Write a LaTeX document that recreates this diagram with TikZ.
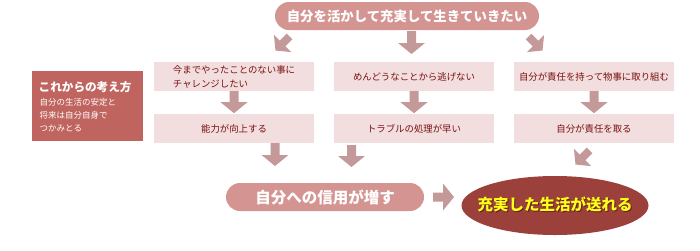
\documentclass[tikz,border=0pt]{standalone}
\usepackage{fontspec}
\setmainfont{Noto Sans CJK JP}
\usetikzlibrary{shapes.geometric,calc}
\definecolor{boxpink}{HTML}{D49592}
\definecolor{arrowc}{HTML}{C49999}
\definecolor{rowbg}{HTML}{F2DEDE}
\definecolor{rowtext}{HTML}{7A1010}
\definecolor{leftred}{HTML}{C0645F}
\definecolor{ellred}{HTML}{9B403B}
\definecolor{shadowc}{HTML}{4A1210}
\definecolor{yel}{HTML}{FFFF1A}
\tikzset{
  pics/barrow/.style={code={
    \fill[arrowc] (-4.5,0) -- (-4.5,#1-11) -- (-13.5,#1-11) -- (0,#1)
      -- (13.5,#1-11) -- (4.5,#1-11) -- (4.5,0) -- cycle;}},
  pillbox/.style={fill=boxpink, rounded corners=14pt, inner sep=0pt, text=white,
    font=\bfseries},
  rowbox/.style={fill=rowbg, minimum width=160pt, minimum height=29pt, inner sep=0pt,
    text=rowtext, font=\fontsize{9.4}{14}\selectfont, align=left},
}
\begin{document}
\begin{tikzpicture}[x=1pt,y=-1pt]
\useasboundingbox (0,0) rectangle (700,250);

% top goal
\node[pillbox, minimum width=264pt, minimum height=28pt,
  font=\fontsize{13.4}{15}\selectfont\bfseries] (top) at (407,16)
  {自分を活かして充実して生きていきたい};

% left box
\node[fill=leftred, minimum width=111pt, minimum height=70pt, inner sep=0pt]
  (left) at (87.5,106) {};
\node[anchor=west, inner sep=0pt, text=white, font=\fontsize{11.6}{13}\selectfont\bfseries]
  (lefttitle) at (38.5,87.5) {これからの考え方};
\node[anchor=north west, inner sep=0pt, text=white, align=left,
  font=\fontsize{8.5}{13.2}\selectfont] (leftbody) at (39.5,98)
  {自分の生活の安定と\\将来は自分自身で\\つかみとる};

% row 1
\node[rowbox] (r1a) at (234,76.5) {今までやったことのない事に\\チャレンジしたい};
\node[rowbox] (r1b) at (414,76.5) {めんどうなことから逃げない};
\node[rowbox] (r1c) at (594,76.5) {自分が責任を持って物事に取り組む};
% row 2
\node[rowbox] (r2a) at (234,128.5) {能力が向上する};
\node[rowbox] (r2b) at (414,128.5) {トラブルの処理が早い};
\node[rowbox] (r2c) at (594,128.5) {自分が責任を取る};

% bottom
\node[pillbox, minimum width=198pt, minimum height=28pt,
  font=\fontsize{15.5}{17}\selectfont\bfseries] (trust) at (325,197)
  {自分への信用が増す};
\node[ellipse, fill=ellred, minimum width=187pt, minimum height=59pt, inner sep=0pt]
  (life) at (555,205.5) {};
\node[text=shadowc, opacity=0.7, font=\fontsize{15.5}{17}\selectfont\bfseries]
  (lifeshadow) at ($(life.center)+(1.2,0.2)$) {充実した生活が送れる};
\node[text=yel, font=\fontsize{15.5}{17}\selectfont\bfseries]
  (lifetext) at ($(life.center)+(0,-1)$) {充実した生活が送れる};

% block arrows
\pic[rotate=-45, scale=0.9] at (289.5,36.5) {barrow=22};
\pic at (411.5,31) {barrow=23};
\pic[rotate=45, scale=0.9] at (528.5,36.5) {barrow=22};

\pic at (r1a.south) {barrow=22};
\pic at (r1b.south) {barrow=22};
\pic at (r1c.south) {barrow=22};

\pic at (275,143) {barrow=23};
\pic at (351.5,145) {barrow=22};
\pic[rotate=-45, scale=0.9] at (589.5,150.5) {barrow=22};

\pic[rotate=90] at (433,197) {barrow=21};
\end{tikzpicture}
\end{document}
